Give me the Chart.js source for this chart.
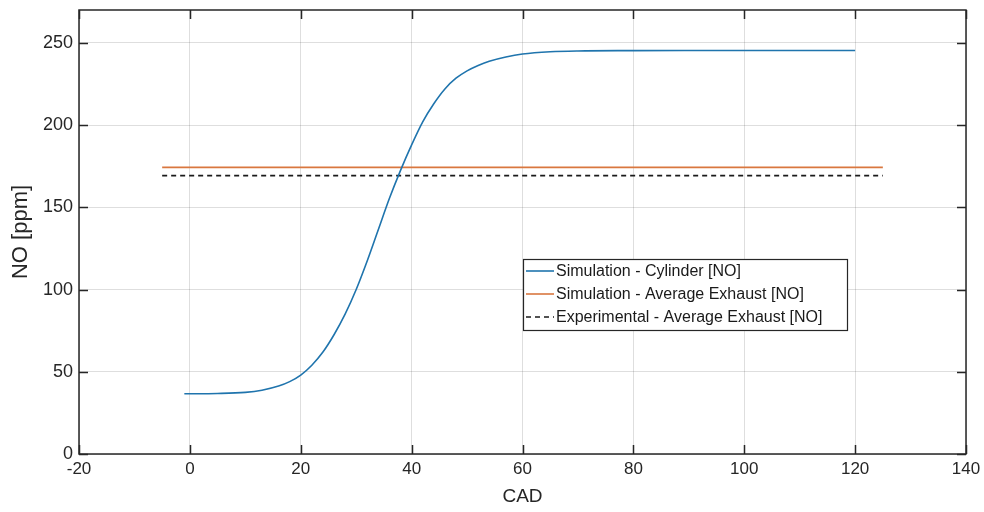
<!DOCTYPE html>
<html>
<head>
<meta charset="utf-8">
<script src="https://cdn.jsdelivr.net/npm/chart.js@4"></script>
<style>
  html, body { margin: 0; padding: 0; background: #fff; }
  #wrap { width: 984px; height: 512px; }
</style>
</head>
<body>
<div id="wrap"><canvas id="chart" width="984" height="512"></canvas></div>
<script>
// crank angle [deg] and in-cylinder NO [ppm]
const cad = [-1, 5, 10, 13, 16, 18, 20, 22, 24, 26, 28, 30, 32, 34, 36, 38, 40, 42, 44, 46, 48, 50, 52, 54, 57, 60, 65, 70, 80, 90, 100, 110, 120];
const cylinderNO = [36.6, 36.8, 37.5, 38.8, 41.3, 44, 48, 54, 62, 72.5, 85, 100, 117.5, 136.5, 155.5, 172.5, 188, 202, 213, 222, 228.5, 233, 236.3, 238.8, 241.4, 243.2, 244.6, 245.1, 245.3, 245.4, 245.4, 245.4, 245.4];

// average exhaust values, drawn across this CAD span
const exhaustCad = [-5, 125];
const simExhaustNO = 174.3;
const expExhaustNO = 169.3;

const xTicks = [-20, 0, 20, 40, 60, 80, 100, 120, 140];
const yTicks = [0, 50, 100, 150, 200, 250];

const labels = [
  'Simulation - Cylinder [NO]',
  'Simulation - Average Exhaust [NO]',
  'Experimental - Average Exhaust [NO]'
];

const FONT = '"Liberation Sans", Arial, sans-serif';
const AXIS = '#262626';

// box around the axes with inward ticks on all four sides
const boxPlugin = {
  id: 'box',
  afterDraw(chart) {
    const { ctx, chartArea: a, scales } = chart;
    ctx.save();
    ctx.strokeStyle = AXIS;
    ctx.lineWidth = 1.5;
    ctx.strokeRect(a.left, a.top, a.right - a.left, a.bottom - a.top);
    const len = 9;
    ctx.beginPath();
    xTicks.forEach(v => {
      const px = Math.round(scales.x.getPixelForValue(v)) + 0.5;
      ctx.moveTo(px, a.bottom); ctx.lineTo(px, a.bottom - len);
      ctx.moveTo(px, a.top); ctx.lineTo(px, a.top + len);
    });
    yTicks.forEach(v => {
      const py = Math.round(scales.y.getPixelForValue(v)) + 0.5;
      ctx.moveTo(a.left, py); ctx.lineTo(a.left + len, py);
      ctx.moveTo(a.right, py); ctx.lineTo(a.right - len, py);
    });
    ctx.stroke();
    ctx.restore();
  }
};

// legend box placed inside the plot
const legendPlugin = {
  id: 'insideLegend',
  afterDraw(chart) {
    const { ctx } = chart;
    const left = 523, top = 259, w = 324, h = 71;
    ctx.save();
    ctx.fillStyle = '#fff';
    ctx.fillRect(left, top, w, h);
    ctx.strokeStyle = AXIS;
    ctx.lineWidth = 1.2;
    ctx.strokeRect(left + 0.5, top + 0.5, w, h);
    ctx.font = '16px ' + FONT;
    ctx.textBaseline = 'middle';
    chart.data.datasets.forEach((ds, i) => {
      const y = top + 12 + i * 23;
      ctx.strokeStyle = ds.borderColor;
      ctx.lineWidth = ds.borderWidth;
      ctx.setLineDash(ds.borderDash || []);
      ctx.beginPath();
      ctx.moveTo(left + 3, y);
      ctx.lineTo(left + 31, y);
      ctx.stroke();
      ctx.setLineDash([]);
      ctx.fillStyle = '#1a1a1a';
      ctx.fillText(ds.label, left + 33, y + 1);
    });
    ctx.restore();
  }
};

new Chart(document.getElementById('chart'), {
  type: 'line',
  data: {
    datasets: [
      {
        label: labels[0],
        data: cad.map((x, i) => ({ x, y: cylinderNO[i] })),
        borderColor: '#1f74ad',
        borderWidth: 1.6,
        pointRadius: 0,
        cubicInterpolationMode: 'monotone'
      },
      {
        label: labels[1],
        data: exhaustCad.map(x => ({ x, y: simExhaustNO })),
        borderColor: '#d9773f',
        borderWidth: 1.6,
        pointRadius: 0
      },
      {
        label: labels[2],
        data: exhaustCad.map(x => ({ x, y: expExhaustNO })),
        borderColor: '#1a1a1a',
        borderWidth: 1.6,
        borderDash: [5, 4],
        pointRadius: 0
      }
    ]
  },
  options: {
    responsive: false,
    animation: false,
    layout: { padding: { left: 0, right: 18, top: 10, bottom: 0 } },
    plugins: { legend: { display: false }, tooltip: { enabled: false } },
    scales: {
      x: {
        type: 'linear',
        min: -20,
        max: 140,
        afterBuildTicks: s => { s.ticks = xTicks.map(v => ({ value: v })); },
        afterFit: s => { s.height = 58; s.paddingLeft = 0; s.paddingRight = 0; },
        grid: { color: 'rgba(0,0,0,0.13)', drawTicks: false },
        border: { display: false },
        ticks: { color: AXIS, font: { family: FONT, size: 17 }, padding: 5, maxRotation: 0 },
        title: { display: true, text: 'CAD', color: AXIS, font: { family: FONT, size: 19 }, padding: { top: 1 } }
      },
      y: {
        min: 0,
        max: 270,
        afterBuildTicks: s => { s.ticks = yTicks.map(v => ({ value: v })); },
        afterFit: s => { s.width = 79; s.paddingTop = 0; s.paddingBottom = 0; },
        grid: { color: 'rgba(0,0,0,0.13)', drawTicks: false },
        border: { display: false },
        ticks: { color: AXIS, font: { family: FONT, size: 18 }, padding: 6 },
        title: { display: true, text: 'NO [ppm]', color: AXIS, font: { family: FONT, size: 22 }, padding: { top: 8, bottom: 0 } }
      }
    }
  },
  plugins: [boxPlugin, legendPlugin]
});
</script>
</body>
</html>
